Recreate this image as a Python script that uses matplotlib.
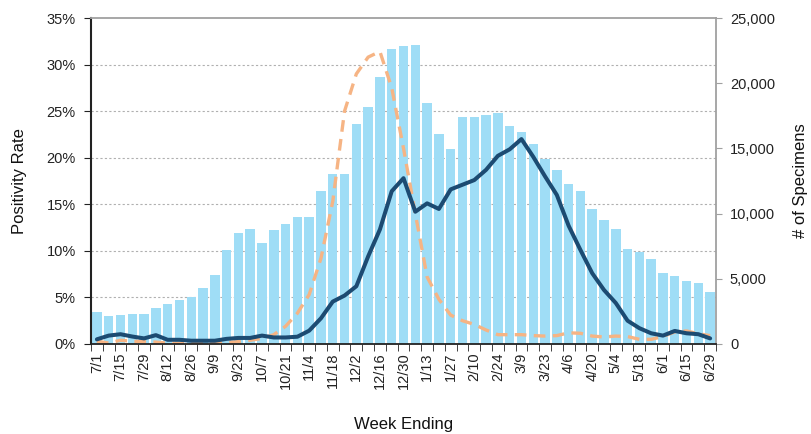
import numpy as np
import matplotlib
matplotlib.use("Agg")
import matplotlib.pyplot as plt
from matplotlib.ticker import MultipleLocator, FixedLocator, FuncFormatter

plt.rcParams['font.family'] = ['Liberation Sans', 'DejaVu Sans']

# tick labels shown every other week
week_labels = ['7/1', '7/15', '7/29', '8/12', '8/26', '9/9', '9/23', '10/7', '10/21',
               '11/4', '11/18', '12/2', '12/16', '12/30', '1/13', '1/27', '2/10', '2/24',
               '3/9', '3/23', '4/6', '4/20', '5/4', '5/18', '6/1', '6/15', '6/29']

# number of specimens per week (right axis)
specimens = [2480, 2150, 2220, 2300, 2300, 2740, 3040, 3370, 3630, 4270,
             5290, 7180, 8490, 8800, 7750, 8720, 9200, 9740, 9740, 11710,
             13060, 13060, 16900, 18170, 20450, 22620, 22880, 22950, 18480, 16080,
             14930, 17380, 17430, 17540, 17690, 16720, 16230, 15340, 14210, 13320,
             12270, 11760, 10330, 9510, 8800, 7260, 7060, 6520, 5470, 5240,
             4830, 4650, 4010]

# positivity rate, current season (%)
pos_current = [0.5, 0.9, 1.05, 0.8, 0.6, 0.95, 0.45, 0.45, 0.35, 0.35,
               0.35, 0.55, 0.65, 0.65, 0.9, 0.7, 0.7, 0.78, 1.43, 2.76,
               4.55, 5.2, 6.2, 9.4, 12.3, 16.4, 17.8, 14.2, 15.1, 14.5,
               16.6, 17.1, 17.6, 18.7, 20.2, 20.9, 22.0, 20.1, 18.0, 16.0,
               12.7, 10.1, 7.6, 5.8, 4.4, 2.5, 1.7, 1.15, 0.9, 1.4,
               1.15, 1.05, 0.6]

# positivity rate, comparison season (%)
pos_previous = [0.3, 0.1, 0.4, 0.3, 0.25, 0.2, 0.1, 0.05, 0.05, 0.05,
                0.1, 0.15, 0.25, 0.4, 0.6, 1.0, 1.9, 3.3, 5.3, 9.2,
                15.3, 25.0, 29.0, 30.8, 31.4, 27.5, 21.0, 14.0, 7.2, 4.8,
                3.1, 2.5, 2.1, 1.5, 1.0, 1.0, 1.0, 0.9, 0.85, 0.9,
                1.2, 1.15, 0.85, 0.75, 0.85, 0.8, 0.5, 0.5, 0.8, 1.3,
                1.4, 1.1, 0.9]

n = len(specimens)
x = np.arange(n)

fig = plt.figure(figsize=(8.11, 4.34), dpi=100)
ax = fig.add_axes([0.1122, 0.2074, 0.7707, 0.7511])
ax2 = ax.twinx()

# bars on the secondary axis
ax2.bar(x, specimens, width=0.8, color='#9FDDF6', edgecolor='none', zorder=2)
ax2.set_ylim(0, 25000)
ax2.yaxis.set_major_locator(MultipleLocator(5000))
ax2.yaxis.set_major_formatter(FuncFormatter(lambda v, p: '{:,.0f}'.format(v)))
# gridlines follow the left (percent) axis
ax2.yaxis.set_minor_locator(MultipleLocator(25000 / 7))
ax2.set_axisbelow(True)
ax2.grid(which='minor', axis='y', color='#B0B0B0', linestyle=(0, (2, 2)), linewidth=0.8)
ax2.tick_params(axis='y', which='minor', length=0)
ax2.tick_params(axis='y', which='major', length=4, color='#A0A0A0', labelsize=10.5,
                labelcolor='#222222', pad=6)
ax2.set_ylabel('# of Specimens', fontsize=12, color='#111111', labelpad=13)
for s in ['left', 'top', 'bottom']:
    ax2.spines[s].set_visible(False)
ax2.spines['right'].set_color('#A0A0A0')
ax2.spines['right'].set_linewidth(1.3)

# lines on the primary axis, above the bars
ax.set_zorder(ax2.get_zorder() + 1)
ax.patch.set_visible(False)
ax.plot(x, pos_previous, color='#F6B484', linewidth=2.4, dashes=(3.5, 2.2),
        solid_capstyle='round', dash_capstyle='butt')
ax.plot(x, pos_current, color='#1C4B72', linewidth=2.9, solid_joinstyle='round',
        solid_capstyle='round')
ax.set_ylim(0, 35)
ax.set_xlim(-0.5, n - 0.5)
ax.yaxis.set_major_locator(MultipleLocator(5))
ax.yaxis.set_major_formatter(FuncFormatter(lambda v, p: '{:.0f}%'.format(v)))
ax.tick_params(axis='y', length=5, color='#222222', labelsize=10.5, labelcolor='#222222', pad=6)
ax.set_ylabel('Positivity Rate', fontsize=12, color='#111111', labelpad=14)

ax.xaxis.set_major_locator(FixedLocator(x[::2]))
ax.set_xticklabels(week_labels, rotation=90, fontsize=10.5, color='#222222')
ax.xaxis.set_minor_locator(FixedLocator(np.arange(n + 1) - 0.5))
ax.tick_params(axis='x', which='major', length=0, pad=6)
ax.tick_params(axis='x', which='minor', length=5, color='#222222')
ax.set_xlabel('Week Ending', fontsize=12, color='#111111', labelpad=20)

ax.spines['left'].set_color('#222222')
ax.spines['left'].set_linewidth(1.5)
ax.spines['bottom'].set_color('#222222')
ax.spines['bottom'].set_linewidth(1.3)
ax.spines['top'].set_color('#A0A0A0')
ax.spines['top'].set_linewidth(1.3)
ax.spines['right'].set_visible(False)

fig.savefig('out.png', dpi=100)
